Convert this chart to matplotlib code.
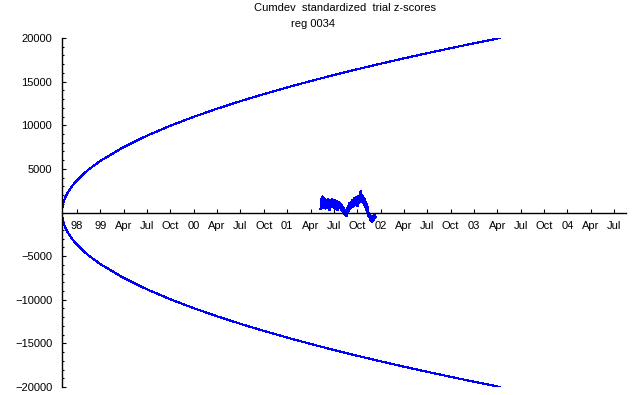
import matplotlib
matplotlib.use("Agg")
import matplotlib.pyplot as plt
import numpy as np
from matplotlib.ticker import MultipleLocator, FixedLocator

# ---- data ----
tick_labels = ["98", "99", "Apr", "Jul", "Oct", "00", "Apr", "Jul", "Oct",
               "01", "Apr", "Jul", "Oct", "02", "Apr", "Jul", "Oct",
               "03", "Apr", "Jul", "Oct", "04", "Apr", "Jul"]

# envelope, x in quarter-tick units
env_x = [-0.64, -0.62, -0.6, -0.55, -0.5, -0.4, -0.3, -0.2, 0.0, 0.25, 0.5, 1, 2, 3, 4, 5,
         6, 7, 8, 9, 10, 11, 12, 13, 14, 15, 16, 17, 18.12]
env_y = [0, 653, 924, 1385, 1728, 2262, 2693, 3063, 3694, 4356, 4930, 5913, 7503, 8810,
         9947, 10966, 11899, 12763, 13573, 14337, 15062, 15754, 16417, 17054, 17668,
         18261, 18836, 19394, 20000]

# cumulative deviation series
cum_start, cum_end = 10.45, 12.76
cumdev = [500, 1500, 800, 1800, 600, 1300, 1600, 700, 1400, 500,
          1100, 1400, 600, 1200, 1500, 800, 1300, 300, 1100, 1400, 700, 1200, 1500, 800,
          1300, 600, 1100, 1400, 500, 1200, 800, 1300, 300, 1100, 700, 1200, 600, 1000,
          500, 900, 300, 800, 200, 600, 100, 500, -100, 300, -300, 0, -400, -100,
          100, 500, 200, 700, 1000, 400, 900, 1100, 600, 1200,
          800, 1400, 700, 1300, 1600, 900, 1500, 1000, 1700, 1100, 800, 1400, 1800, 1100,
          1600, 1900, 1300, 2400, 1500, 2000, 1200, 1800,
          1500, 1100, 1500, 800, 1200, 600, 900, 300, 600, 0,
          -100, -400, -500, -300, -800, -500, -900, -1050, -600, -950, -400, -750, -300, -500]

plt.rcParams['font.family'] = ['Liberation Sans', 'DejaVu Sans']

fig = plt.figure(figsize=(6.4, 3.95), dpi=100)
W, H = 640, 395
ax = fig.add_axes([62 / W, (H - 387) / H, (626 - 62) / W, (387 - 38) / H])

blue = (0, 0, 1)
ex = np.array(env_x)
ey = np.array(env_y)
ax.plot(ex, ey, color=blue, lw=0.8, antialiased=False)
ax.plot(ex, -ey, color=blue, lw=0.8, antialiased=False)
cx = np.linspace(cum_start, cum_end, len(cumdev))
ax.plot(cx, cumdev, color=blue, lw=1.4, antialiased=False)

ax.set_xlim(-0.642, 23.51)
ax.set_ylim(-20000, 20000)

for s in ["top", "right"]:
    ax.spines[s].set_visible(False)
ax.spines["bottom"].set_position(("data", 0))
ax.spines["bottom"].set_linewidth(1.0)
ax.spines["left"].set_linewidth(1.0)

ax.xaxis.set_major_locator(FixedLocator(range(len(tick_labels))))
ax.set_xticklabels(tick_labels)
ax.tick_params(axis="x", direction="in", length=3, width=0.8, pad=6, labelsize=8)

ax.yaxis.set_major_locator(FixedLocator([-20000, -15000, -10000, -5000, 5000, 10000, 15000, 20000]))
ax.yaxis.set_minor_locator(MultipleLocator(1000))
ax.yaxis.set_major_formatter(plt.FuncFormatter(lambda v, p: f"{int(v)}".replace("-", "\u2212")))
ax.tick_params(axis="y", which="major", direction="in", length=3, width=0.8, pad=7, labelsize=8)
ax.tick_params(axis="y", which="minor", direction="in", length=1.6, width=0.8)

fig.text(345 / W, 1 - 8 / H, "Cumdev  standardized  trial z-scores", ha="center", va="center", fontsize=8)
fig.text(313 / W, 1 - 24 / H, "reg 0034", ha="center", va="center", fontsize=8)

fig.savefig("out.png", dpi=100)
